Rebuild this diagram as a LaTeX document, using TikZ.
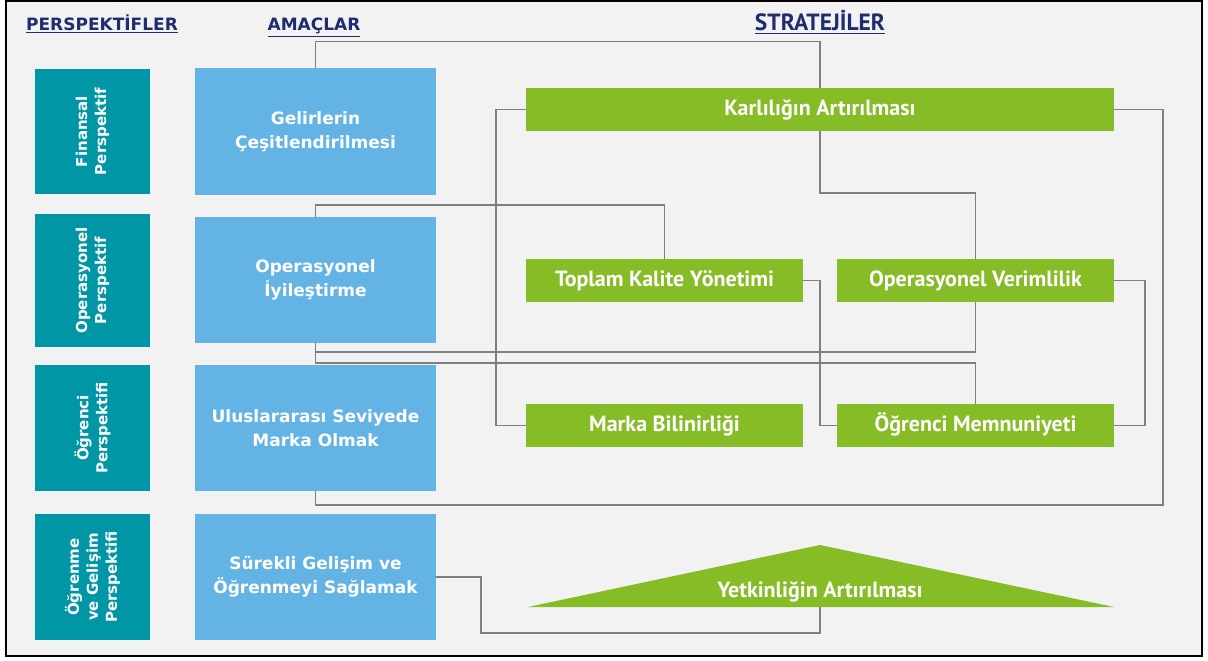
\documentclass[tikz,border=0pt]{standalone}
\usepackage{fontspec}
\setmainfont{DejaVu Sans}
\newfontfamily\stratfont{PT Sans}

\definecolor{cffffff}{RGB}{255,255,255}
\definecolor{cf2f2f2}{RGB}{242,242,242}
\definecolor{c0096a6}{RGB}{0,150,166}
\definecolor{c62b3e3}{RGB}{99,179,228}
\definecolor{c86bc25}{RGB}{134,188,37}
\definecolor{c7f7f7f}{RGB}{127,127,127}
\definecolor{c1f2d6e}{RGB}{31,45,110}

\begin{document}
\begin{tikzpicture}[y=1pt, x=1pt, yscale=-1, inner sep=0pt, outer sep=0pt,
  header/.style={text=c1f2d6e, anchor=base, font=\bfseries\fontsize{17}{20}\selectfont},
  perspbox/.style={fill=c0096a6, text=white, rotate=90, minimum height=115pt,
    align=center, font=\bfseries\fontsize{15}{19}\selectfont},
  goalbox/.style={fill=c62b3e3, text=white, minimum width=241pt, minimum height=126pt,
    align=center, font=\bfseries\fontsize{17}{24}\selectfont},
  stratbox/.style={fill=c86bc25, text=white, minimum width=277pt, minimum height=43pt,
    text height=16pt, text depth=5pt, font=\stratfont\bfseries\fontsize{22}{24}\selectfont},
  link/.style={draw=c7f7f7f, line width=1.5pt}]

% frame
\path[fill=cffffff] (0,0) rectangle (1208,661);
\path[draw=black, fill=cf2f2f2, line width=2pt] (6,1.5) rectangle (1202,656);

% headers
\node[header] (hpersp) at (102,31) {\underline{PERSPEKTİFLER}};
\node[header] (hgoal) at (314,31) {\underline{AMAÇLAR}};
\node[header, font=\stratfont\bfseries\fontsize{23.5}{24}\selectfont] (hstrat) at (820,31)
  {\underline{STRATEJİLER}};

% perspectives
\node[perspbox, minimum width=125pt] (fin) at (92.5,131.5) {Finansal\\Perspektif};
\node[perspbox, minimum width=133pt] (ope) at (92.5,280.5) {Operasyonel\\Perspektif};
\node[perspbox, minimum width=126pt] (ogr) at (92.5,428) {Öğrenci\\Perspektifi};
\node[perspbox, minimum width=126pt] (gel) at (92.5,577) {Öğrenme\\ve Gelişim\\Perspektifi};

% goals
\node[goalbox] (gcs) at (315.5,131.5) {Gelirlerin\\Çeşitlendirilmesi};
\node[goalbox] (opi) at (315.5,280) {Operasyonel\\İyileştirme};
\node[goalbox] (ulu) at (315.5,428) {Uluslararası Seviyede\\Marka Olmak};
\node[goalbox] (sur) at (315.5,577) {Sürekli Gelişim ve\\Öğrenmeyi Sağlamak};

% strategies
\node[stratbox, minimum width=588pt] (kar) at (820,109.5) {Karlılığın Artırılması};
\node[stratbox] (tkm) at (664.5,280.5) {Toplam Kalite Yönetimi};
\node[stratbox] (opv) at (975.5,280.5) {Operasyonel Verimlilik};
\node[stratbox] (mar) at (664.5,425.5) {Marka Bilinirliği};
\node[stratbox] (ogm) at (975.5,425.5) {Öğrenci Memnuniyeti};
\path[fill=c86bc25] (528,607) -- (820,545) -- (1114,607) -- cycle;
\node[stratbox, fill=none, minimum width=0pt, minimum height=0pt] (yet) at (820,592)
  {Yetkinliğin Artırılması};
\coordinate (yetbase) at (820,607);

% links
\draw[link] (gcs.north) -- ++(0,-27) -| (kar.north);
\draw[link] (kar.south) -- ++(0,62) -| (opv.north);
\draw[link] (kar.west) -- ++(-30,0) |- (mar.west);
\draw[link] (kar.east) -- ++(49,0) -- ++(0,395.5) -| (ulu.south);
\draw[link] (opi.north) -- ++(0,-12) -| (tkm.north);
\draw[link] (opi.south) -- ++(0,9) -| (opv.south);
\draw[link] (opi.south) -- ++(0,20) -| (ogm.north);
\draw[link] (tkm.east) -- ++(17,0) |- (ogm.west);
\draw[link] (opv.east) -- ++(31,0) |- (ogm.east);
\draw[link] (sur.east) -- ++(45,0) -- ++(0,56) -| (yetbase);

\end{tikzpicture}
\end{document}
